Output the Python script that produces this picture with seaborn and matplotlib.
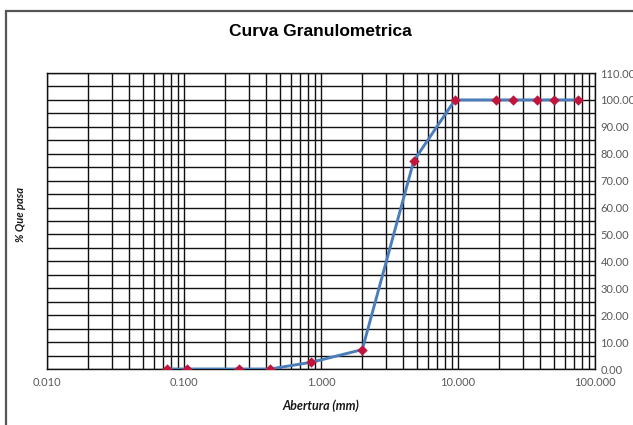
import matplotlib
matplotlib.use("Agg")
import matplotlib.pyplot as plt
import matplotlib.ticker as mticker
from matplotlib.patches import Rectangle
import seaborn as sns
import pandas as pd
import numpy as np

# Data
abertura_mm = [0.075, 0.106, 0.25, 0.425, 0.85, 2.0, 4.75, 9.5, 19.0, 25.0, 37.5, 50.0, 75.0]
pct_pasa = [0.0, 0.0, 0.0, 0.0, 2.5, 7.2, 77.3, 100.0, 100.0, 100.0, 100.0, 100.0, 100.0]
x_ticks = [0.01, 0.1, 1, 10, 100]
y_ticks = [0, 10, 20, 30, 40, 50, 60, 70, 80, 90, 100, 110]

df = pd.DataFrame({"abertura": abertura_mm, "pasa": pct_pasa})

sns.set_theme(style="white")
plt.rcParams["font.family"] = ["Lato", "DejaVu Sans"]

fig = plt.figure(figsize=(6.33, 4.25), dpi=100)
ax = fig.add_axes([47 / 633, 1 - 369 / 425, 548 / 633, 296 / 425])

sns.lineplot(data=df, x="abertura", y="pasa", ax=ax, color="#4A7EBB",
             linewidth=2.1, sort=False, zorder=3)
sns.scatterplot(data=df, x="abertura", y="pasa", ax=ax, color="#C0143C",
                marker="D", s=28, edgecolor="#C0143C", linewidth=0, zorder=4)

ax.set_xscale("log")
ax.set_xlim(0.01, 100)
ax.set_ylim(0, 110)

ax.xaxis.set_major_locator(mticker.FixedLocator(x_ticks))
ax.xaxis.set_major_formatter(mticker.FuncFormatter(lambda v, p: f"{v:.3f}"))
ax.xaxis.set_minor_locator(mticker.LogLocator(base=10, subs=np.arange(2, 10)))
ax.xaxis.set_minor_formatter(mticker.NullFormatter())

ax.yaxis.set_major_locator(mticker.FixedLocator(y_ticks))
ax.yaxis.set_minor_locator(mticker.MultipleLocator(5))
ax.yaxis.set_major_formatter(mticker.FuncFormatter(lambda v, p: f"{v:.2f}"))
ax.yaxis.tick_right()

ax.grid(True, which="both", axis="both", color="#111111", linewidth=1.0)
ax.set_axisbelow(True)
for s in ax.spines.values():
    s.set_color("#111111")
    s.set_linewidth(1.0)

ax.tick_params(axis="both", which="both", length=0, labelsize=8,
               labelcolor="#595959")
ax.tick_params(axis="x", pad=6)
ax.tick_params(axis="y", pad=4)

ax.set_xlabel("Abertura (mm)", fontsize=9, fontweight="bold", style="italic",
              color="#1a1a1a", labelpad=8)
ax.set_ylabel("")
fig.text(20 / 633, 1 - 215 / 425, "% Que pasa", rotation=90, ha="center",
         va="center", fontsize=8, fontweight="bold", style="italic", color="#1a1a1a")

fig.text(320 / 633, 1 - 32 / 425, "Curva Granulometrica", ha="center", va="center",
         fontsize=12.5, fontweight="bold", family=["Liberation Sans", "DejaVu Sans"],
         color="#000000")

fig.patches.append(Rectangle((6 / 633, -0.05), 1.0, 1 - 11 / 425 + 0.05,
                             transform=fig.transFigure, fill=False,
                             edgecolor="#555555", linewidth=1.6))

fig.savefig("out.png", dpi=100)
